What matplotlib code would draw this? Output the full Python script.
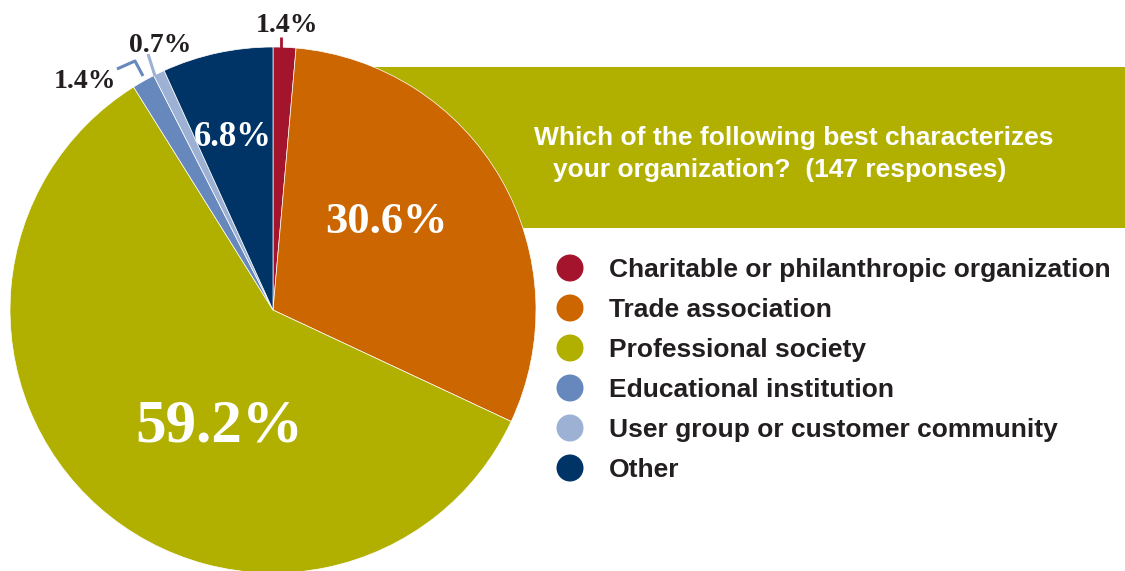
import matplotlib
matplotlib.use("Agg")
import matplotlib.pyplot as plt
from matplotlib.patches import Rectangle, Circle

# Survey data
categories = [
    "Charitable or philanthropic organization",
    "Trade association",
    "Professional society",
    "Educational institution",
    "User group or customer community",
    "Other",
]
shares = [1.4, 30.6, 59.2, 1.4, 0.7, 6.8]
colors = ["#A5142D", "#CC6600", "#B1B000", "#6688BC", "#9DB1D4", "#013466"]
title_lines = ["Which of the following best characterizes",
               "your organization?  (147 responses)"]

W, H = 1125, 571
fig = plt.figure(figsize=(W / 100, H / 100), dpi=100)
ax = fig.add_axes([0, 0, 1, 1])


def Y(py):
    """Convert a top-down pixel row to axis y."""
    return H - py


# Olive title banner sitting behind the pie
ax.add_patch(Rectangle((273, Y(228)), W - 273, 228 - 67,
                       facecolor="#B1B000", edgecolor="none", zorder=1))

cx, cy, R = 273, Y(310), 263
wedges, _ = ax.pie(shares, colors=colors, startangle=90, counterclock=False,
                   radius=R, center=(cx, cy),
                   wedgeprops=dict(edgecolor="white", linewidth=0.5, zorder=2))
for w in wedges:
    w.set_zorder(2)

ax.set_xlim(0, W)
ax.set_ylim(0, H)
ax.set_aspect("equal")
ax.axis("off")

serif = ["Liberation Serif", "DejaVu Serif"]
sans = ["Liberation Sans", "DejaVu Sans"]
dark = "#231F20"

# Value labels: (index, x, y, size, colour)
label_spots = [
    (0, 287, 26, 20, dark),
    (1, 386, 222, 32, "white"),
    (2, 219, 427, 44, "white"),
    (3, 85, 81, 20, dark),
    (4, 160, 45, 20, dark),
    (5, 233, 137, 25, "white"),
]
for i, x, y, size, col in label_spots:
    ax.text(x, Y(y), f"{shares[i]}%", ha="center", va="center",
            fontsize=size, fontweight="bold", family=serif, color=col, zorder=4)

# Leader lines for the thin slices
ax.plot([281, 281], [Y(37), Y(48)], color=colors[0], lw=2, zorder=3,
        solid_capstyle="butt")
ax.plot([117, 135, 143], [Y(69), Y(61), Y(76)], color=colors[3], lw=2.2,
        zorder=3, solid_capstyle="butt")
ax.plot([148, 155], [Y(54), Y(76)], color=colors[4], lw=2.2, zorder=3,
        solid_capstyle="butt")

# Banner title
ax.text(534, Y(138), title_lines[0], ha="left", va="center", fontsize=19,
        fontweight="bold", family=sans, color="white", zorder=4)
ax.text(553, Y(170), title_lines[1], ha="left", va="center", fontsize=19,
        fontweight="bold", family=sans, color="white", zorder=4)

# Legend with round swatches
row0, step = 268, 40
for k, (name, col) in enumerate(zip(categories, colors)):
    yy = Y(row0 + k * step)
    ax.add_patch(Circle((570, yy), 13.5, facecolor=col, edgecolor="none",
                        zorder=4))
    ax.text(609, yy - 2, name, ha="left", va="center", fontsize=19,
            fontweight="bold", family=sans, color=dark, zorder=4)

fig.savefig("out.png", dpi=100)
